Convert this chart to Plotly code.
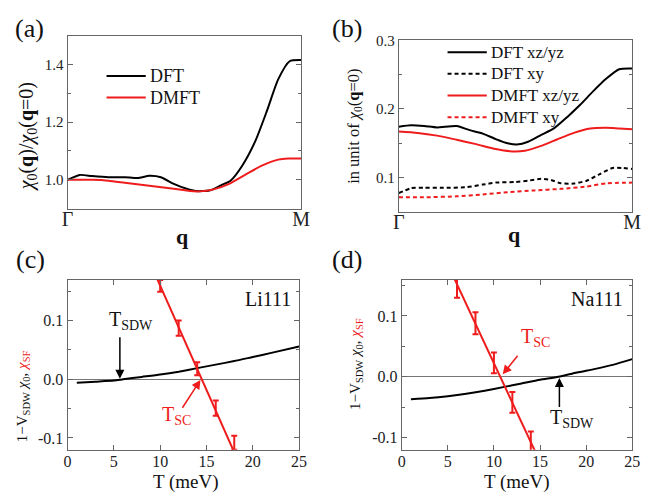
import plotly.graph_objects as go

W, H = 652, 493
FONT = "Liberation Serif"
RED = "#ee1c1c"

# ---- panel (a) data: chi0(q)/chi0(q=0) along Gamma-M ----
a_q_dft = [0, 0.052, 0.105, 0.175, 0.245, 0.30, 0.35, 0.40, 0.455, 0.51, 0.55, 0.608, 0.657, 0.699, 0.748, 0.804, 0.853, 0.902, 0.951, 1.0]
a_dft = [1.0, 1.017, 1.013, 1.009, 1.009, 1.006, 1.014, 1.009, 0.986, 0.969, 0.961, 0.963, 0.981, 0.998, 1.049, 1.134, 1.237, 1.348, 1.411, 1.415]
a_q_dmft = [0, 0.105, 0.175, 0.245, 0.315, 0.385, 0.455, 0.524, 0.566, 0.622, 0.692, 0.762, 0.832, 0.902, 0.944, 1.0]
a_dmft = [1.0, 1.0, 0.997, 0.99, 0.983, 0.976, 0.969, 0.961, 0.96, 0.966, 0.986, 1.018, 1.049, 1.07, 1.074, 1.074]

# ---- panel (b) data: orbital-resolved, in unit of chi0(q=0) ----
b_q_dft_xz = [0, 0.053, 0.109, 0.164, 0.248, 0.304, 0.36, 0.415, 0.471, 0.506, 0.554, 0.61, 0.666, 0.721, 0.777, 0.833, 0.888, 0.944, 1.0]
b_dft_xz = [0.174, 0.176, 0.175, 0.173, 0.175, 0.169, 0.164, 0.156, 0.1495, 0.148, 0.152, 0.162, 0.172, 0.188, 0.206, 0.226, 0.244, 0.258, 0.259]
b_q_dmft_xz = [0, 0.081, 0.164, 0.248, 0.331, 0.415, 0.485, 0.54, 0.61, 0.68, 0.75, 0.82, 0.888, 0.944, 1.0]
b_dmft_xz = [0.167, 0.165, 0.161, 0.155, 0.1486, 0.1414, 0.138, 0.139, 0.146, 0.1557, 0.165, 0.1714, 0.1724, 0.1714, 0.1705]
b_q_dft_xy = [0, 0.053, 0.109, 0.192, 0.29, 0.36, 0.415, 0.499, 0.554, 0.61, 0.652, 0.694, 0.75, 0.805, 0.861, 0.916, 0.958, 1.0]
b_dft_xy = [0.077, 0.0843, 0.0848, 0.0848, 0.0857, 0.0895, 0.0924, 0.0933, 0.0952, 0.0981, 0.0962, 0.0914, 0.091, 0.0952, 0.1048, 0.1138, 0.1138, 0.1124]
b_q_dmft_xy = [0, 0.109, 0.248, 0.36, 0.471, 0.582, 0.694, 0.805, 0.888, 1.0]
b_dmft_xy = [0.071, 0.071, 0.0724, 0.0752, 0.0786, 0.081, 0.0833, 0.0867, 0.0914, 0.0924]

# ---- panel (c) Li111 ----
c_T = [1, 3, 5, 6, 8, 10, 12, 14, 16, 18, 20, 22, 25]
c_sdw = [-0.006, -0.004, -0.002, 0.0, 0.004, 0.008, 0.013, 0.019, 0.025, 0.031, 0.038, 0.045, 0.056]
c_sf_T = [10, 12, 14, 16, 18]
c_sf = [0.159, 0.087, 0.018, -0.049, -0.108]
c_sf_err = [0.010, 0.013, 0.011, 0.013, 0.012]
c_fit_T = [9, 19]
c_fit = [0.195, -0.160]

# ---- panel (d) Na111 ----
d_T = [1, 3, 5, 7, 9, 11, 13, 15, 17, 19, 21, 23, 25]
d_sdw = [-0.037, -0.035, -0.032, -0.028, -0.023, -0.017, -0.011, -0.005, 0.0, 0.007, 0.013, 0.020, 0.029]
d_sf_T = [6, 8, 10, 12, 14]
d_sf = [0.146, 0.088, 0.023, -0.042, -0.106]
d_sf_err = [0.016, 0.018, 0.017, 0.017, 0.016]
d_fit_T = [5, 15]
d_fit = [0.1845, -0.140]

fig = go.Figure()

def line(x, y, color, xa, ya, dash="solid", width=2):
    fig.add_trace(go.Scatter(x=x, y=y, mode="lines", xaxis=xa, yaxis=ya,
                             line=dict(color=color, width=width, dash=dash,
                                       shape="spline", smoothing=0.6),
                             showlegend=False, hoverinfo="skip"))

line(a_q_dft, a_dft, "black", "x", "y")
line(a_q_dmft, a_dmft, RED, "x", "y")
line(b_q_dft_xz, b_dft_xz, "black", "x2", "y2")
line(b_q_dft_xy, b_dft_xy, "black", "x2", "y2", dash="4px,3px")
line(b_q_dmft_xz, b_dmft_xz, RED, "x2", "y2")
line(b_q_dmft_xy, b_dmft_xy, RED, "x2", "y2", dash="4px,3px")

line(c_T, c_sdw, "black", "x3", "y3")
fig.add_trace(go.Scatter(x=c_fit_T, y=c_fit, mode="lines", xaxis="x3", yaxis="y3",
                         line=dict(color=RED, width=2), showlegend=False))
fig.add_trace(go.Scatter(x=c_sf_T, y=c_sf, mode="markers", xaxis="x3", yaxis="y3",
                         marker=dict(size=1, color=RED),
                         error_y=dict(type="data", array=c_sf_err, color=RED, thickness=2, width=3),
                         showlegend=False))
line(d_T, d_sdw, "black", "x4", "y4")
fig.add_trace(go.Scatter(x=d_fit_T, y=d_fit, mode="lines", xaxis="x4", yaxis="y4",
                         line=dict(color=RED, width=2), showlegend=False))
fig.add_trace(go.Scatter(x=d_sf_T, y=d_sf, mode="markers", xaxis="x4", yaxis="y4",
                         marker=dict(size=1, color=RED),
                         error_y=dict(type="data", array=d_sf_err, color=RED, thickness=2, width=3),
                         showlegend=False))

def px_dom(x0, x1):
    return [x0 / W, x1 / W]

def py_dom(y0, y1):
    return [1 - y1 / H, 1 - y0 / H]

AX = dict(showline=True, linecolor="#666", linewidth=1, mirror="ticks", showgrid=False,
          ticks="inside", ticklen=5, tickcolor="#666", zeroline=False,
          tickfont=dict(family=FONT, size=16, color="#222"))

qaxis = dict(AX, tickvals=[0, 1], ticktext=["Γ", "M"], range=[0, 1], ticks="",
             tickfont=dict(family=FONT, size=20, color="#222"), mirror=True, ticklabelstandoff=-8)

taxis = dict(AX, range=[0, 25], tickvals=[0, 5, 10, 15, 20, 25],
             tickfont=dict(family=FONT, size=16, color="#222"), ticklabelstandoff=-3)

fig.update_layout(
    width=W, height=H, margin=dict(l=0, r=0, t=0, b=0),
    paper_bgcolor="white", plot_bgcolor="white",
    font=dict(family=FONT, color="#222"),
    xaxis=dict(qaxis, domain=px_dom(63, 302), anchor="y"),
    yaxis=dict(AX, domain=py_dom(28, 204), anchor="x", range=[0.9, 1.5],
               tickvals=[1.0, 1.2, 1.4], ticktext=["1.0", "1.2", "1.4"],
               tickfont=dict(family=FONT, size=15, color="#222"),
               minor=dict(tickvals=[1.1, 1.3], ticks="inside", ticklen=3, tickcolor="#666")),
    xaxis2=dict(qaxis, domain=px_dom(402, 641), anchor="y2"),
    yaxis2=dict(AX, domain=py_dom(33, 207), anchor="x2", range=[0.05, 0.3],
                tickvals=[0.1, 0.2, 0.3], ticktext=["0.1", "0.2", "0.3"],
                tickfont=dict(family=FONT, size=15, color="#222"),
                minor=dict(tickvals=[0.15, 0.25], ticks="inside", ticklen=3, tickcolor="#666")),
    xaxis3=dict(taxis, domain=px_dom(63, 300), anchor="y3"),
    yaxis3=dict(AX, domain=py_dom(276, 449), anchor="x3", range=[-0.12, 0.17],
                tickvals=[-0.1, 0.0, 0.1], ticktext=["-0.1", "0.0", "0.1"],
                zeroline=True, zerolinecolor="#777", zerolinewidth=1,
                minor=dict(tickvals=[-0.05, 0.05, 0.15], ticks="inside", ticklen=3, tickcolor="#666")),
    xaxis4=dict(taxis, domain=px_dom(405, 641), anchor="y4"),
    yaxis4=dict(AX, domain=py_dom(276, 449), anchor="x4", range=[-0.12, 0.16],
                tickvals=[-0.1, 0.0, 0.1], ticktext=["-0.1", "0.0", "0.1"],
                zeroline=True, zerolinecolor="#777", zerolinewidth=1,
                minor=dict(tickvals=[-0.05, 0.05, 0.15], ticks="inside", ticklen=3, tickcolor="#666")),
)

ann = []
def pa(text, px, py, size, angle=0, color="#111", xanchor="center", yanchor="middle"):
    ann.append(dict(text=text, x=px / W, y=1 - py / H, xref="paper", yref="paper",
                    showarrow=False, textangle=angle, xanchor=xanchor, yanchor=yanchor,
                    font=dict(family=FONT, size=size, color=color)))

# panel labels
pa("(a)", 24, 21, 26)
pa("(b)", 349, 21, 26)
pa("(c)", 25, 256, 26)
pa("(d)", 349, 256, 26)

# axis titles
pa("<i>χ</i><sub>0</sub>(<b>q</b>)/<i>χ</i><sub>0</sub>(<b>q</b>=0)", 22, 131, 20, angle=-90)
pa("in unit of <i>χ</i><sub>0</sub>(<b>q</b>=0)", 356, 120, 16.5, angle=-90)
ylab = "1−V<sub>SDW</sub> <i>χ</i><sub>0</sub>, <span style='color:%s'><i>χ</i><sub>SF</sub></span>" % RED
pa(ylab, 17, 395, 15, angle=-90)
pa(ylab, 358, 362, 15, angle=-90)
pa("<b>q</b>", 181, 232, 22)
pa("<b>q</b>", 520, 230, 22)
pa("T (meV)", 184, 482, 19)
pa("T (meV)", 523, 482, 19)

# legends (a)
fig.add_shape(type="line", xref="x domain", yref="y domain", x0=0.167, x1=0.335, y0=0.767, y1=0.767,
              line=dict(color="black", width=2))
fig.add_shape(type="line", xref="x domain", yref="y domain", x0=0.167, x1=0.335, y0=0.642, y1=0.642,
              line=dict(color=RED, width=2))
for t, yy in [("DFT", 0.767), ("DMFT", 0.642)]:
    ann.append(dict(text=t, xref="x domain", yref="y domain", x=0.345, y=yy, showarrow=False,
                    xanchor="left", yanchor="middle", font=dict(family=FONT, size=18, color="#111")))
# legends (b)
leg_b = [("DFT xz/yz", "black", "solid", 0.931), ("DFT xy", "black", "4px,3px", 0.805),
         ("DMFT xz/yz", RED, "solid", 0.678), ("DMFT xy", RED, "4px,3px", 0.552)]
for t, c, d, yy in leg_b:
    fig.add_shape(type="line", xref="x2 domain", yref="y2 domain", x0=0.209, x1=0.377, y0=yy, y1=yy,
                  line=dict(color=c, width=2, dash=d))
    ann.append(dict(text=t, xref="x2 domain", yref="y2 domain", x=0.385, y=yy, showarrow=False,
                    xanchor="left", yanchor="middle", font=dict(family=FONT, size=17, color="#111")))

# sample labels
ann.append(dict(text="Li111", xref="x3 domain", yref="y3 domain", x=0.975, y=0.96, showarrow=False,
                xanchor="right", yanchor="top", font=dict(family=FONT, size=20, color="#111")))
ann.append(dict(text="Na111", xref="x4 domain", yref="y4 domain", x=0.97, y=0.96, showarrow=False,
                xanchor="right", yanchor="top", font=dict(family=FONT, size=20, color="#111")))

# arrows and T labels
def arrow(xa, ya, x0, y0, x1, y1, color):
    ann.append(dict(text="", xref=xa, yref=ya, axref=xa, ayref=ya, x=x1, y=y1, ax=x0, ay=y0,
                    showarrow=True, arrowhead=2, arrowsize=1.2, arrowwidth=1.5, arrowcolor=color))

def tlabel(xa, ya, x, y, sub, color):
    ann.append(dict(text="T<sub>%s</sub>" % sub, xref=xa, yref=ya, x=x, y=y, showarrow=False,
                    xanchor="left", yanchor="middle", font=dict(family=FONT, size=20, color=color)))

arrow("x3", "y3", 5.65, 0.074, 5.65, 0.001, "black")
tlabel("x3", "y3", 4.3, 0.10, "SDW", "#111")
arrow("x3", "y3", 12.3, -0.051, 14.35, -0.001, RED)
tlabel("x3", "y3", 10.0, -0.062, "SC", RED)
arrow("x4", "y4", 12.7, 0.037, 10.95, 0.004, RED)
tlabel("x4", "y4", 12.7, 0.065, "SC", RED)
arrow("x4", "y4", 17.1, -0.052, 17.1, -0.002, "black")
tlabel("x4", "y4", 15.9, -0.068, "SDW", "#111")

fig.update_layout(annotations=ann)
fig.write_html("out.html", config={"displayModeBar": False},
               post_script="document.body.style.margin='0px';document.body.style.padding='0px';")
